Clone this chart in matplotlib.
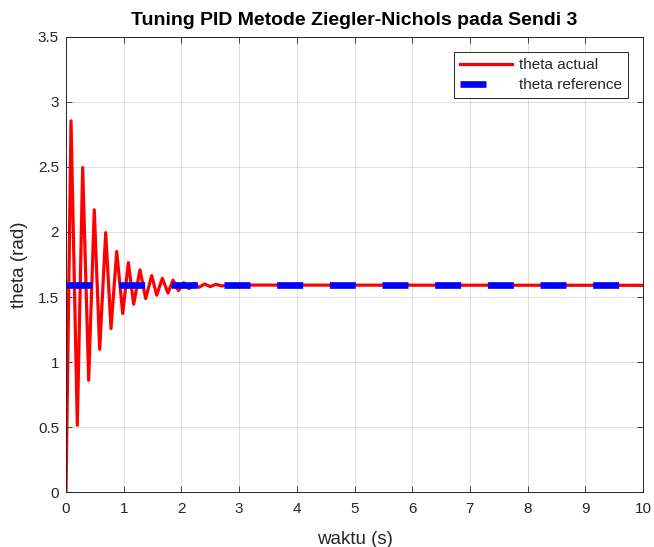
#!/usr/bin/env python3
"""
Plot hasil tuning PID (Ziegler-Nichols) untuk sendi 3: theta aktual vs referensi.
"""

import matplotlib
matplotlib.use('Agg')
import matplotlib.pyplot as plt

# Titik-titik respon theta aktual (puncak/lembah)
TIME_ACTUAL = [0.0, 0.087, 0.196, 0.289, 0.393, 0.49, 0.584, 0.688, 0.78, 0.879,
               0.983, 1.08, 1.173, 1.282, 1.381, 1.485, 1.572, 1.669, 1.768, 1.854,
               1.95, 2.04, 2.13, 2.22, 2.31, 2.40, 2.50, 2.60, 2.70, 2.80, 10.0]
THETA_ACTUAL = [0.0, 2.853, 0.515, 2.495, 0.861, 2.17, 1.099, 1.995, 1.258, 1.85,
                1.373, 1.765, 1.445, 1.709, 1.488, 1.665, 1.514, 1.644, 1.531, 1.63,
                1.55, 1.61, 1.565, 1.60, 1.575, 1.60, 1.58, 1.598, 1.585, 1.592, 1.59]

# Referensi (konstan)
TIME_REF = [0.0, 10.0]
THETA_REF = [1.59, 1.59]

X_TICKS = list(range(0, 11))
Y_TICKS = [0, 0.5, 1, 1.5, 2, 2.5, 3, 3.5]
Y_TICK_LABELS = ['0', '0.5', '1', '1.5', '2', '2.5', '3', '3.5']

TEXT_GRAY = '#262626'


def make_plot(outfile='out.png'):
    """Buat grafik ala MATLAB dan simpan ke file."""
    plt.rcParams['font.family'] = ['Liberation Sans', 'DejaVu Sans']

    fig = plt.figure(figsize=(6.54, 5.47), dpi=100)
    ax = fig.add_axes([66 / 654, 1 - 492.3 / 547, (643 - 66) / 654, (492.3 - 36.7) / 547])

    ax.plot(TIME_ACTUAL, THETA_ACTUAL, color='red', linewidth=2.3,
            label='theta actual', solid_joinstyle='round')
    ax.plot(TIME_REF, THETA_REF, color='blue', linewidth=4.8,
            dashes=(3.9, 4.0), dash_capstyle='butt', label='theta reference')

    ax.set_xlim(0, 10)
    ax.set_ylim(0, 3.5)
    ax.set_xticks(X_TICKS)
    ax.set_xticklabels([str(v) for v in X_TICKS])
    ax.set_yticks(Y_TICKS)
    ax.set_yticklabels(Y_TICK_LABELS)

    ax.grid(True, color='#262626', alpha=0.15, linewidth=0.7)
    ax.tick_params(direction='in', top=True, right=True, length=4, width=0.6,
                   labelsize=11, colors=TEXT_GRAY)
    ax.tick_params(axis='x', pad=7)
    ax.tick_params(axis='y', pad=5)
    for spine in ax.spines.values():
        spine.set_color(TEXT_GRAY)
        spine.set_linewidth(0.7)

    ax.set_xlabel('waktu (s)', fontsize=13.5, color=TEXT_GRAY, labelpad=11)
    ax.set_ylabel('theta (rad)', fontsize=13.5, color=TEXT_GRAY, labelpad=7)
    ax.set_title('Tuning PID Metode Ziegler-Nichols pada Sendi 3',
                 fontsize=14, fontweight='bold', color='black', pad=8.5)

    leg = ax.legend(loc='upper right', fontsize=11, fancybox=False, framealpha=1,
                    edgecolor=TEXT_GRAY, handlelength=3.4, handletextpad=0.45,
                    labelspacing=0.4, borderpad=0.4, borderaxespad=1.0)
    leg.get_frame().set_linewidth(0.7)
    for text in leg.get_texts():
        text.set_color(TEXT_GRAY)

    fig.savefig(outfile, dpi=100, facecolor='white')


if __name__ == '__main__':
    make_plot()
